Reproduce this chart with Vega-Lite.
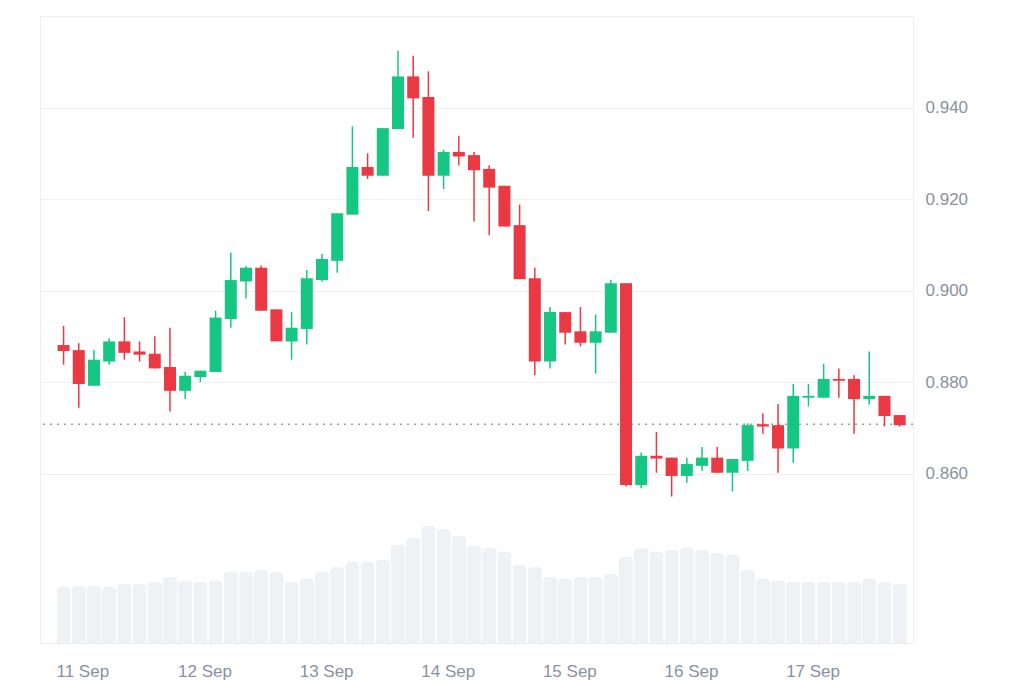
{
  "$schema": "https://vega.github.io/schema/vega-lite/v6.json",
  "width": 873,
  "height": 627,
  "autosize": {"type": "none"},
  "padding": {"left": 40, "top": 16, "right": 111, "bottom": 40},
  "background": "white",
  "config": {
    "view": {"stroke": "#eceef1"},
    "font": "Liberation Sans"
  },
  "data": {
    "values": [
      {"t": "2024-09-11T01:30:00", "open": 0.8881, "high": 0.8923, "low": 0.8838, "close": 0.8868, "volume": 56.0},
      {"t": "2024-09-11T04:30:00", "open": 0.8870, "high": 0.8885, "low": 0.8744, "close": 0.8796, "volume": 57.3},
      {"t": "2024-09-11T07:30:00", "open": 0.8792, "high": 0.8870, "low": 0.8792, "close": 0.8849, "volume": 57.3},
      {"t": "2024-09-11T10:30:00", "open": 0.8845, "high": 0.8896, "low": 0.8838, "close": 0.8889, "volume": 56.0},
      {"t": "2024-09-11T13:30:00", "open": 0.8889, "high": 0.8942, "low": 0.8849, "close": 0.8864, "volume": 59.3},
      {"t": "2024-09-11T16:30:00", "open": 0.8867, "high": 0.8889, "low": 0.8845, "close": 0.8860, "volume": 59.3},
      {"t": "2024-09-11T19:30:00", "open": 0.8862, "high": 0.8900, "low": 0.8830, "close": 0.8830, "volume": 61.3},
      {"t": "2024-09-11T22:30:00", "open": 0.8833, "high": 0.8919, "low": 0.8736, "close": 0.8781, "volume": 66.0},
      {"t": "2024-09-12T01:30:00", "open": 0.8781, "high": 0.8822, "low": 0.8763, "close": 0.8814, "volume": 62.7},
      {"t": "2024-09-12T04:30:00", "open": 0.8811, "high": 0.8825, "low": 0.8800, "close": 0.8825, "volume": 61.3},
      {"t": "2024-09-12T07:30:00", "open": 0.8822, "high": 0.8956, "low": 0.8822, "close": 0.8941, "volume": 62.7},
      {"t": "2024-09-12T10:30:00", "open": 0.8938, "high": 0.9083, "low": 0.8919, "close": 0.9023, "volume": 71.3},
      {"t": "2024-09-12T13:30:00", "open": 0.9020, "high": 0.9054, "low": 0.8983, "close": 0.9050, "volume": 71.3},
      {"t": "2024-09-12T16:30:00", "open": 0.9050, "high": 0.9055, "low": 0.8956, "close": 0.8956, "volume": 73.0},
      {"t": "2024-09-12T19:30:00", "open": 0.8959, "high": 0.8959, "low": 0.8889, "close": 0.8889, "volume": 71.3},
      {"t": "2024-09-12T22:30:00", "open": 0.8889, "high": 0.8953, "low": 0.8849, "close": 0.8919, "volume": 61.3},
      {"t": "2024-09-13T01:30:00", "open": 0.8916, "high": 0.9045, "low": 0.8882, "close": 0.9027, "volume": 64.3},
      {"t": "2024-09-13T04:30:00", "open": 0.9023, "high": 0.9080, "low": 0.9020, "close": 0.9069, "volume": 71.3},
      {"t": "2024-09-13T07:30:00", "open": 0.9065, "high": 0.9169, "low": 0.9039, "close": 0.9169, "volume": 76.0},
      {"t": "2024-09-13T10:30:00", "open": 0.9166, "high": 0.9359, "low": 0.9166, "close": 0.9270, "volume": 81.3},
      {"t": "2024-09-13T13:30:00", "open": 0.9270, "high": 0.9300, "low": 0.9244, "close": 0.9251, "volume": 81.3},
      {"t": "2024-09-13T16:30:00", "open": 0.9251, "high": 0.9355, "low": 0.9251, "close": 0.9355, "volume": 83.3},
      {"t": "2024-09-13T19:30:00", "open": 0.9353, "high": 0.9524, "low": 0.9353, "close": 0.9468, "volume": 98.7},
      {"t": "2024-09-13T22:30:00", "open": 0.9468, "high": 0.9513, "low": 0.9334, "close": 0.9420, "volume": 105.0},
      {"t": "2024-09-14T01:30:00", "open": 0.9423, "high": 0.9479, "low": 0.9174, "close": 0.9251, "volume": 117.3},
      {"t": "2024-09-14T04:30:00", "open": 0.9251, "high": 0.9308, "low": 0.9222, "close": 0.9303, "volume": 114.0},
      {"t": "2024-09-14T07:30:00", "open": 0.9303, "high": 0.9338, "low": 0.9274, "close": 0.9293, "volume": 107.3},
      {"t": "2024-09-14T10:30:00", "open": 0.9296, "high": 0.9303, "low": 0.9151, "close": 0.9263, "volume": 97.3},
      {"t": "2024-09-14T13:30:00", "open": 0.9266, "high": 0.9274, "low": 0.9121, "close": 0.9225, "volume": 95.0},
      {"t": "2024-09-14T16:30:00", "open": 0.9229, "high": 0.9229, "low": 0.9140, "close": 0.9140, "volume": 91.7},
      {"t": "2024-09-14T19:30:00", "open": 0.9143, "high": 0.9188, "low": 0.9025, "close": 0.9025, "volume": 78.3},
      {"t": "2024-09-14T22:30:00", "open": 0.9027, "high": 0.9050, "low": 0.8815, "close": 0.8845, "volume": 76.0},
      {"t": "2024-09-15T01:30:00", "open": 0.8845, "high": 0.8964, "low": 0.8830, "close": 0.8953, "volume": 66.0},
      {"t": "2024-09-15T04:30:00", "open": 0.8953, "high": 0.8953, "low": 0.8882, "close": 0.8908, "volume": 64.3},
      {"t": "2024-09-15T07:30:00", "open": 0.8911, "high": 0.8964, "low": 0.8878, "close": 0.8886, "volume": 66.0},
      {"t": "2024-09-15T10:30:00", "open": 0.8886, "high": 0.8948, "low": 0.8819, "close": 0.8911, "volume": 66.0},
      {"t": "2024-09-15T13:30:00", "open": 0.8908, "high": 0.9023, "low": 0.8908, "close": 0.9016, "volume": 69.3},
      {"t": "2024-09-15T16:30:00", "open": 0.9016, "high": 0.9016, "low": 0.8572, "close": 0.8575, "volume": 86.3},
      {"t": "2024-09-15T19:30:00", "open": 0.8575, "high": 0.8646, "low": 0.8568, "close": 0.8639, "volume": 95.0},
      {"t": "2024-09-15T22:30:00", "open": 0.8639, "high": 0.8691, "low": 0.8602, "close": 0.8633, "volume": 91.7},
      {"t": "2024-09-16T01:30:00", "open": 0.8635, "high": 0.8635, "low": 0.8550, "close": 0.8595, "volume": 93.3},
      {"t": "2024-09-16T04:30:00", "open": 0.8595, "high": 0.8635, "low": 0.8580, "close": 0.8621, "volume": 95.0},
      {"t": "2024-09-16T07:30:00", "open": 0.8617, "high": 0.8658, "low": 0.8606, "close": 0.8635, "volume": 93.3},
      {"t": "2024-09-16T10:30:00", "open": 0.8635, "high": 0.8658, "low": 0.8602, "close": 0.8602, "volume": 90.0},
      {"t": "2024-09-16T13:30:00", "open": 0.8602, "high": 0.8632, "low": 0.8561, "close": 0.8632, "volume": 88.3},
      {"t": "2024-09-16T16:30:00", "open": 0.8628, "high": 0.8710, "low": 0.8606, "close": 0.8706, "volume": 73.0},
      {"t": "2024-09-16T19:30:00", "open": 0.8708, "high": 0.8732, "low": 0.8687, "close": 0.8703, "volume": 64.3},
      {"t": "2024-09-16T22:30:00", "open": 0.8706, "high": 0.8752, "low": 0.8602, "close": 0.8655, "volume": 62.7},
      {"t": "2024-09-17T01:30:00", "open": 0.8655, "high": 0.8796, "low": 0.8624, "close": 0.8770, "volume": 61.3},
      {"t": "2024-09-17T04:30:00", "open": 0.8766, "high": 0.8796, "low": 0.8747, "close": 0.8770, "volume": 61.3},
      {"t": "2024-09-17T07:30:00", "open": 0.8766, "high": 0.8840, "low": 0.8766, "close": 0.8807, "volume": 61.3},
      {"t": "2024-09-17T10:30:00", "open": 0.8807, "high": 0.8830, "low": 0.8766, "close": 0.8803, "volume": 61.3},
      {"t": "2024-09-17T13:30:00", "open": 0.8807, "high": 0.8815, "low": 0.8687, "close": 0.8763, "volume": 61.3},
      {"t": "2024-09-17T16:30:00", "open": 0.8763, "high": 0.8867, "low": 0.8751, "close": 0.8770, "volume": 64.3},
      {"t": "2024-09-17T19:30:00", "open": 0.8770, "high": 0.8770, "low": 0.8703, "close": 0.8726, "volume": 61.3},
      {"t": "2024-09-17T22:30:00", "open": 0.8728, "high": 0.8728, "low": 0.8703, "close": 0.8706, "volume": 59.3}
    ]
  },
  "layer": [
    {
      "mark": {"type": "bar", "size": 14.4, "color": "#eff2f5", "cornerRadiusTopLeft": 4, "cornerRadiusTopRight": 4},
      "encoding": {
        "x": {
          "field": "t",
          "type": "temporal",
          "scale": {
            "domain": [
              {"year": 2024, "month": 9, "date": 10, "hours": 20, "minutes": 51},
              {"year": 2024, "month": 9, "date": 18, "hours": 1, "minutes": 8}
            ],
            "padding": 0
          },
          "axis": {
            "values": [
              {"year": 2024, "month": 9, "date": 11},
              {"year": 2024, "month": 9, "date": 12},
              {"year": 2024, "month": 9, "date": 13},
              {"year": 2024, "month": 9, "date": 14},
              {"year": 2024, "month": 9, "date": 15},
              {"year": 2024, "month": 9, "date": 16},
              {"year": 2024, "month": 9, "date": 17}
            ],
            "format": "%-d %b",
            "title": null,
            "labelAlign": "left",
            "labelBaseline": "top",
            "labelPadding": 20,
            "labelFontSize": 17,
            "labelColor": "#8a919f",
            "labelFont": "Liberation Sans",
            "labelOverlap": false,
            "labelFlush": false,
            "ticks": false,
            "domain": false,
            "grid": false
          }
        },
        "y": {
          "field": "volume",
          "type": "quantitative",
          "scale": {"domain": [0, 627], "nice": false},
          "axis": null
        }
      }
    },
    {
      "layer": [
        {
          "data": {"values": [{"price": 0.8708}]},
          "mark": {"type": "rule", "color": "#9aa0aa", "strokeDash": [2, 5], "strokeWidth": 1.3},
          "encoding": {
            "y": {"field": "price", "type": "quantitative"}
          }
        },
        {
          "mark": {"type": "rule", "strokeWidth": 1.5},
          "encoding": {
            "x": {"field": "t", "type": "temporal"},
            "y": {
              "field": "low",
              "type": "quantitative",
              "scale": {"domain": [0.823, 0.96], "nice": false, "zero": false},
              "axis": {
                "orient": "right",
                "values": [0.86, 0.88, 0.90, 0.92, 0.94],
                "format": ".3f",
                "title": null,
                "labelPadding": 12,
                "labelFontSize": 17,
                "labelColor": "#8a919f",
                "labelFont": "Liberation Sans",
                "ticks": false,
                "domain": false,
                "grid": true,
                "gridColor": "#f0f1f3",
                "gridWidth": 1.2
              }
            },
            "y2": {"field": "high"},
            "color": {
              "condition": {"test": "datum.close >= datum.open", "value": "#16c784"},
              "value": "#ea3943"
            }
          }
        },
        {
          "mark": {"type": "bar", "size": 12},
          "encoding": {
            "x": {"field": "t", "type": "temporal"},
            "y": {"field": "open", "type": "quantitative"},
            "y2": {"field": "close"},
            "color": {
              "condition": {"test": "datum.close >= datum.open", "value": "#16c784"},
              "value": "#ea3943"
            }
          }
        }
      ]
    }
  ],
  "resolve": {"scale": {"y": "independent"}}
}
